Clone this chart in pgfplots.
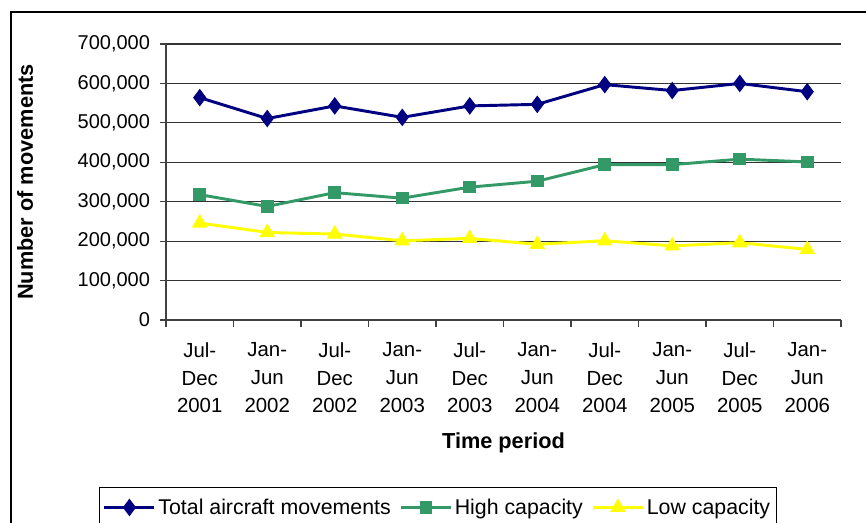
\documentclass[border=0pt]{standalone}
\usepackage{fontspec}
\setmainfont{Liberation Sans}
\usepackage{pgfplots}
\pgfplotsset{compat=1.18}
\definecolor{totalblue}{RGB}{0,0,128}
\definecolor{highgreen}{RGB}{51,153,102}
\definecolor{lowyellow}{RGB}{255,255,0}

\begin{document}
\begin{tikzpicture}
% picture is 866 x 522 px, 1 px = 0.75pt
\useasboundingbox (0pt,0pt) rectangle (649.5pt,391.5pt);
\clip (0pt,0pt) rectangle (649.5pt,391.5pt);
% outer chart frame (cut off at right and bottom)
\draw[black, line width=1pt] (8.25pt,-20pt) -- (8.25pt,382.5pt) -- (670pt,382.5pt);
\begin{axis}[
    at={(124.5pt,151.5pt)}, anchor=south west,
    width=506.25pt, height=207pt, scale only axis,
    xmin=0.5, xmax=10.5, ymin=0, ymax=700000,
    scaled y ticks=false,
    axis x line*=bottom, axis y line*=left,
    axis line style={-, black!75, line width=0.8pt},
    tick align=outside,
    tick style={black!75, line width=0.8pt},
    xtick={1,...,10},
    major x tick style={draw=none},
    minor xtick={0.5,1.5,...,10.5},
    minor tick length=5.5pt,
    major tick length=4.5pt,
    xticklabels={{Jul-\\Dec\\2001},{Jan-\\Jun\\2002},{Jul-\\Dec\\2002},{Jan-\\Jun\\2003},{Jul-\\Dec\\2003},
                 {Jan-\\Jun\\2004},{Jul-\\Dec\\2004},{Jan-\\Jun\\2005},{Jul-\\Dec\\2005},{Jan-\\Jun\\2006}},
    xticklabel style={align=center, font=\fontsize{15.3}{20.8}\selectfont, yshift=-9pt},
    ytick={0,100000,200000,300000,400000,500000,600000,700000},
    yticklabels={0,{100,000},{200,000},{300,000},{400,000},{500,000},{600,000},{700,000}},
    yticklabel style={font=\fontsize{15}{18}\selectfont, xshift=-4pt},
    ymajorgrids, grid style={black!80, line width=0.8pt},
    xlabel={Time period}, ylabel={Number of movements},
    every axis x label/.style={at={(axis description cs:0.5,0)}, yshift=-92.5pt, anchor=center,
        font=\bfseries\fontsize{16.3}{18}\selectfont},
    every axis y label/.style={at={(axis description cs:0,0.5)}, xshift=-105.75pt, rotate=90, anchor=center,
        font=\bfseries\fontsize{16.3}{18}\selectfont},
    legend columns=3,
    legend image code/.code={\draw[mark repeat=2,mark phase=2] plot coordinates {(0pt,0pt) (18.75pt,0pt) (37.5pt,0pt)};},
    legend style={at={(-0.0993,-0.605)}, anchor=north west, draw=black, line width=0.8pt,
        font=\fontsize{16}{19}\selectfont, inner xsep=2.6pt, inner ysep=6.5pt,
        nodes={inner sep=1.9pt},
        /tikz/every even column/.append style={column sep=4.5pt}},
]
\addplot[totalblue, line width=2.2pt, mark=diamond*, mark size=4.8pt, mark options={solid}]
  coordinates {(1,564000) (2,511000) (3,543000) (4,514000) (5,543000)
               (6,547000) (7,597000) (8,582000) (9,600000) (10,579000)};
\addlegendentry{Total aircraft movements}
\addplot[highgreen, line width=2.2pt, mark=square*, mark size=3.6pt, mark options={solid}]
  coordinates {(1,318000) (2,288000) (3,323000) (4,309000) (5,337000)
               (6,352000) (7,394000) (8,394000) (9,408000) (10,401000)};
\addlegendentry{High capacity}
\addplot[lowyellow, line width=2.2pt, mark=triangle*, mark size=4.6pt, mark options={solid}]
  coordinates {(1,246000) (2,222000) (3,218000) (4,201000) (5,207000)
               (6,192000) (7,201000) (8,188000) (9,196000) (10,179000)};
\addlegendentry{Low capacity\hspace{6pt}}
\end{axis}
\end{tikzpicture}
\end{document}
